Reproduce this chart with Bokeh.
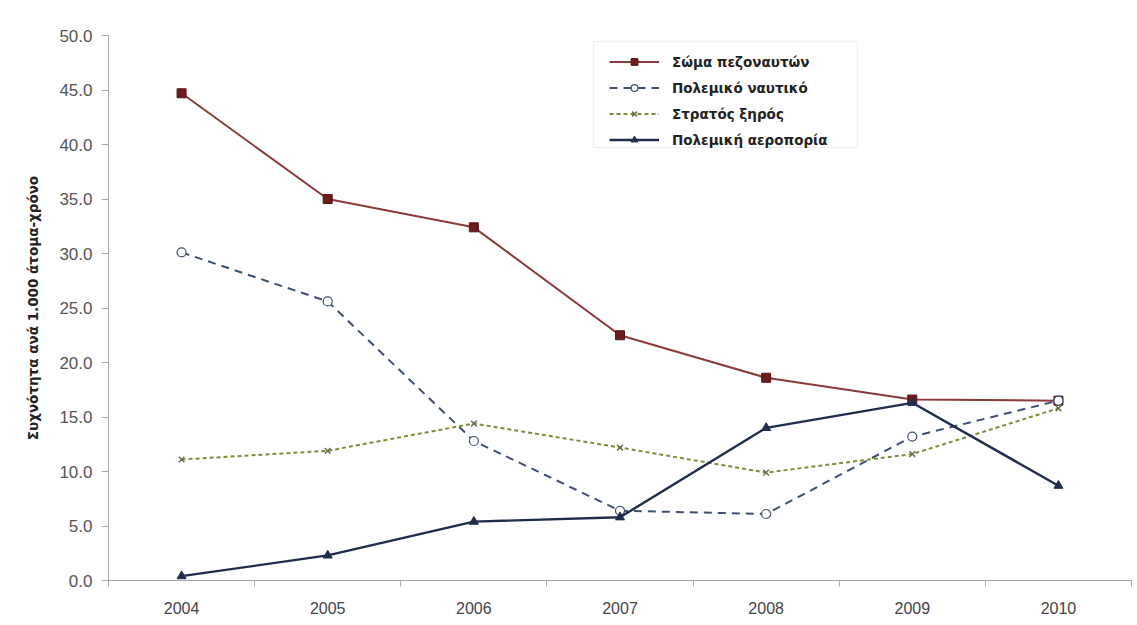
from bokeh.plotting import figure
from bokeh.models import (Range1d, LinearAxis, FixedTicker, SingleIntervalTicker,
                          NumeralTickFormatter, BasicTickFormatter, BoxAnnotation)
from bokeh.embed import file_html
from bokeh.resources import INLINE

# Incidence per 1,000 person-years by service branch
years = [2004, 2005, 2006, 2007, 2008, 2009, 2010]
marines = [44.7, 35.0, 32.4, 22.5, 18.6, 16.6, 16.5]
navy = [30.1, 25.6, 12.8, 6.4, 6.1, 13.2, 16.5]
army = [11.1, 11.9, 14.4, 12.2, 9.9, 11.6, 15.8]
air_force = [0.4, 2.3, 5.4, 5.8, 14.0, 16.3, 8.7]

series_names = ["Σώμα πεζοναυτών", "Πολεμικό ναυτικό", "Στρατός ξηρός", "Πολεμική αεροπορία"]
y_title = "Συχνότητα ανά 1.000 άτομα-χρόνο"

FONT = "Liberation Sans"
BOLD_FONT = "DejaVu Sans"

p = figure(width=1137, height=625, output_backend="svg", toolbar_location=None,
           x_range=Range1d(2003.5, 2010.5), y_range=Range1d(0, 50),
           x_axis_type=None, y_axis_type=None,
           min_border_left=108, min_border_right=6, min_border_top=35, min_border_bottom=45)
p.outline_line_color = None
p.background_fill_color = "white"
p.border_fill_color = "white"
p.xgrid.visible = False
p.ygrid.visible = False

AXIS_COLOR = "#a8a8a8"

# y axis
yaxis = LinearAxis(ticker=SingleIntervalTicker(interval=5),
                   formatter=NumeralTickFormatter(format="0.0"))
yaxis.axis_line_color = AXIS_COLOR
yaxis.major_tick_line_color = AXIS_COLOR
yaxis.major_tick_out = 7
yaxis.major_tick_in = 0
yaxis.minor_tick_line_color = None
yaxis.major_label_standoff = 9
yaxis.major_label_text_font = FONT
yaxis.major_label_text_font_size = "17px"
yaxis.major_label_text_color = "#555555"
yaxis.axis_label = y_title
yaxis.axis_label_text_font = BOLD_FONT
yaxis.axis_label_text_font_size = "13.5px"
yaxis.axis_label_text_font_style = "bold"
yaxis.axis_label_text_color = "#222222"
yaxis.axis_label_standoff = 15
p.add_layout(yaxis, "left")

# x axis: labels at the years, tick marks between them
boundaries = [y - 0.5 for y in years] + [years[-1] + 0.5]
xaxis = LinearAxis(ticker=FixedTicker(ticks=years, minor_ticks=boundaries),
                   formatter=BasicTickFormatter(use_scientific=False))
xaxis.axis_line_color = AXIS_COLOR
xaxis.major_tick_line_color = None
xaxis.major_tick_out = 0
xaxis.major_tick_in = 0
xaxis.minor_tick_line_color = AXIS_COLOR
xaxis.minor_tick_out = 6
xaxis.minor_tick_in = 0
xaxis.major_label_standoff = 15
xaxis.major_label_text_font = FONT
xaxis.major_label_text_font_size = "16px"
xaxis.major_label_text_color = "#444444"
p.add_layout(xaxis, "below")

# series
p.line(years, marines, line_color="#8a3a3a", line_width=2, legend_label=series_names[0])
p.scatter(years, marines, marker="square", size=9, fill_color="#6b1c1c",
          line_color="#5a1414", legend_label=series_names[0])

p.line(years, navy, line_color="#3e5070", line_width=2, line_dash="8 6",
       legend_label=series_names[1])
p.scatter(years, navy, marker="circle", size=9, fill_color="white",
          line_color="#3e5070", line_width=1.2, legend_label=series_names[1])

p.line(years, army, line_color="#7f8c3a", line_width=2, line_dash="4 3",
       legend_label=series_names[2])
p.scatter(years, army, marker="x", size=8, line_color="#6a6f50", line_width=1.5,
          legend_label=series_names[2])

p.line(years, air_force, line_color="#1f2d4d", line_width=2.4,
       legend_label=series_names[3])
p.scatter(years, air_force, marker="triangle", size=9, fill_color="#1f2d4d",
          line_color="#1f2d4d", legend_label=series_names[3])

# legend frame
frame_box = BoxAnnotation(left=485, right=749, top=539, bottom=433,
                          left_units="screen", right_units="screen",
                          top_units="screen", bottom_units="screen",
                          fill_color="white", fill_alpha=1.0,
                          line_color="#c4c4c4", line_width=1, level="overlay")
p.add_layout(frame_box)

legend = p.legend[0]
legend.location = (501, 432)
legend.border_line_color = None
legend.background_fill_alpha = 0
legend.padding = 6
legend.margin = 0
legend.spacing = 9
legend.glyph_width = 50
legend.glyph_height = 17
legend.label_height = 17
legend.label_standoff = 13
legend.label_text_font = BOLD_FONT
legend.label_text_font_size = "13.5px"
legend.label_text_font_style = "bold"
legend.label_text_color = "#222222"
legend.level = "overlay"

open("out.html", "w").write(file_html(p, INLINE))
